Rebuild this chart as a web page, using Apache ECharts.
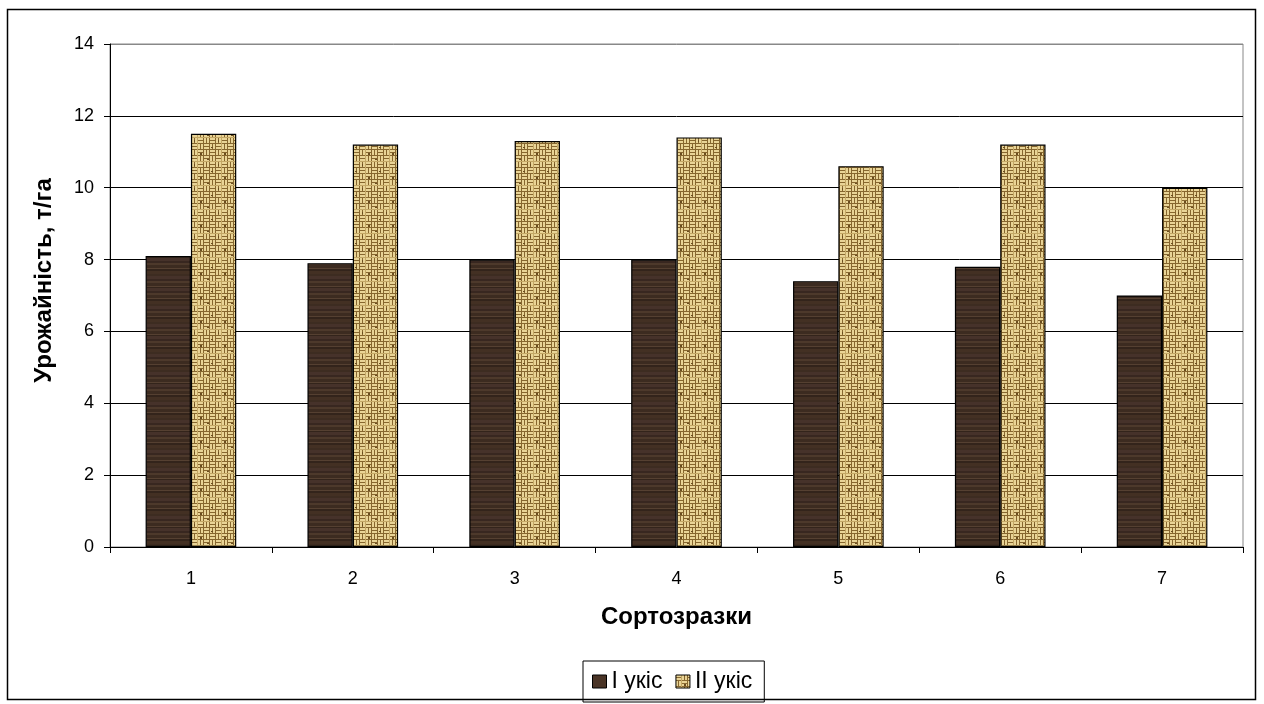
<!DOCTYPE html>
<html><head><meta charset="utf-8">
<script src="https://cdn.jsdelivr.net/npm/echarts@6/dist/echarts.min.js"></script>
<style>html,body{margin:0;padding:0;background:#fff}#c{width:1264px;height:704px}</style>
</head><body><div id="c"></div>
<script>
const categories = ['1','2','3','4','5','6','7'];
const seriesNames = ['I укіс','II укіс'];
const cut1 = [8.1, 7.9, 8.0, 8.0, 7.4, 7.8, 7.0];
const cut2 = [11.5, 11.2, 11.3, 11.4, 10.6, 11.2, 10.0];
const yTitle = 'Урожайність, т/га';
const xTitle = 'Сортозразки';

function woodPattern(){
  const c = document.createElement('canvas'); c.width = 60; c.height = 48;
  const g = c.getContext('2d');
  g.fillStyle = '#3e2b1f'; g.fillRect(0,0,60,48);
  const rows = [['#46322a',3],['#382720',2],['#4d392b',2],['#3c2b20',3],['#554031',1],['#33241b',2],['#433023',3],['#3d2c21',2]];
  let y = 0, i = 0;
  while (y < 48){ const r = rows[i%rows.length]; g.fillStyle = r[0]; g.fillRect(0,y,60,r[1]); y += r[1]; i++; }
  return c;
}
function burlapPattern(){
  const c = document.createElement('canvas'); c.width = 24; c.height = 24;
  const g = c.getContext('2d');
  g.fillStyle = '#86662e'; g.fillRect(0,0,24,24);
  g.fillStyle = '#e9d496';
  for (let by=0; by<24; by+=6) for (let bx=0; bx<24; bx+=6){
    const h = ((bx/6)+(by/6))%2===0;
    for (let k=0;k<2;k++){
      if (h) g.fillRect(bx, by+k*3, 5, 2); else g.fillRect(bx+k*3, by, 2, 5);
    }
  }
  g.fillStyle = '#c4a866';
  g.fillRect(5,0,1,24); g.fillRect(0,17,24,1);
  g.fillStyle = '#6a4d1f';
  g.fillRect(8,9,2,2); g.fillRect(19,3,2,1); g.fillRect(2,20,1,2); g.fillRect(15,15,2,1);
  return c;
}
const wood = {image: woodPattern(), repeat: 'repeat'};
const burlap = {image: burlapPattern(), repeat: 'repeat'};

const chart = echarts.init(document.getElementById('c'), null, {renderer:'canvas'});
chart.setOption({
  animation:false,
  textStyle:{fontFamily:'Liberation Sans, Arial, sans-serif', color:'#000'},
  graphic:[{type:'rect', shape:{x:7.5,y:9.5,width:1248,height:690}, style:{fill:'none', stroke:'#000', lineWidth:1.5}, z:-1}],
  grid:{left:110, right:21, top:44, bottom:157, show:true, borderColor:'#888', borderWidth:1, backgroundColor:'#fff'},
  legend:{
    left:583, top:661, itemWidth:14, itemHeight:13, itemGap:13, icon:'rect',
    borderColor:'#000', borderWidth:1, padding:[9,12,9,9],
    textStyle:{fontSize:23, fontFamily:'Liberation Sans, Arial, sans-serif', color:'#000'},
    data:[{name:seriesNames[0], itemStyle:{color:'#4a3426', borderColor:'#000', borderWidth:1}},
          {name:seriesNames[1], itemStyle:{color:burlap, borderColor:'#000', borderWidth:1}}]
  },
  xAxis:{
    type:'category', data:categories,
    name:xTitle, nameLocation:'middle', nameGap:58,
    nameTextStyle:{fontSize:24, fontWeight:'bold', color:'#000'},
    axisLine:{lineStyle:{color:'#000', width:1}},
    axisTick:{show:true, length:6, lineStyle:{color:'#000'}},
    axisLabel:{fontSize:18, color:'#000', margin:23}
  },
  yAxis:{
    type:'value', min:0, max:14, interval:2,
    name:yTitle, nameLocation:'middle', nameGap:54, nameRotate:90,
    nameTextStyle:{fontSize:24, fontWeight:'bold', color:'#000', padding:[0,0,0,30]},
    axisLine:{show:true, lineStyle:{color:'#000', width:1}},
    axisTick:{show:true, length:6, lineStyle:{color:'#000'}},
    axisLabel:{fontSize:18, color:'#000', margin:16},
    splitLine:{show:true, lineStyle:{color:['#000','#000','#000','#000','#000','#000','#000','#888'], width:1}}
  },
  series:[
    {name:seriesNames[0], type:'bar', data:cut1, barWidth:'28%', barGap:'0%',
     itemStyle:{color:wood, borderColor:'#000', borderWidth:1.2}},
    {name:seriesNames[1], type:'bar', data:cut2, barWidth:'28%', barGap:'0%',
     itemStyle:{color:burlap, borderColor:'#000', borderWidth:1.2}}
  ]
});
</script></body></html>
